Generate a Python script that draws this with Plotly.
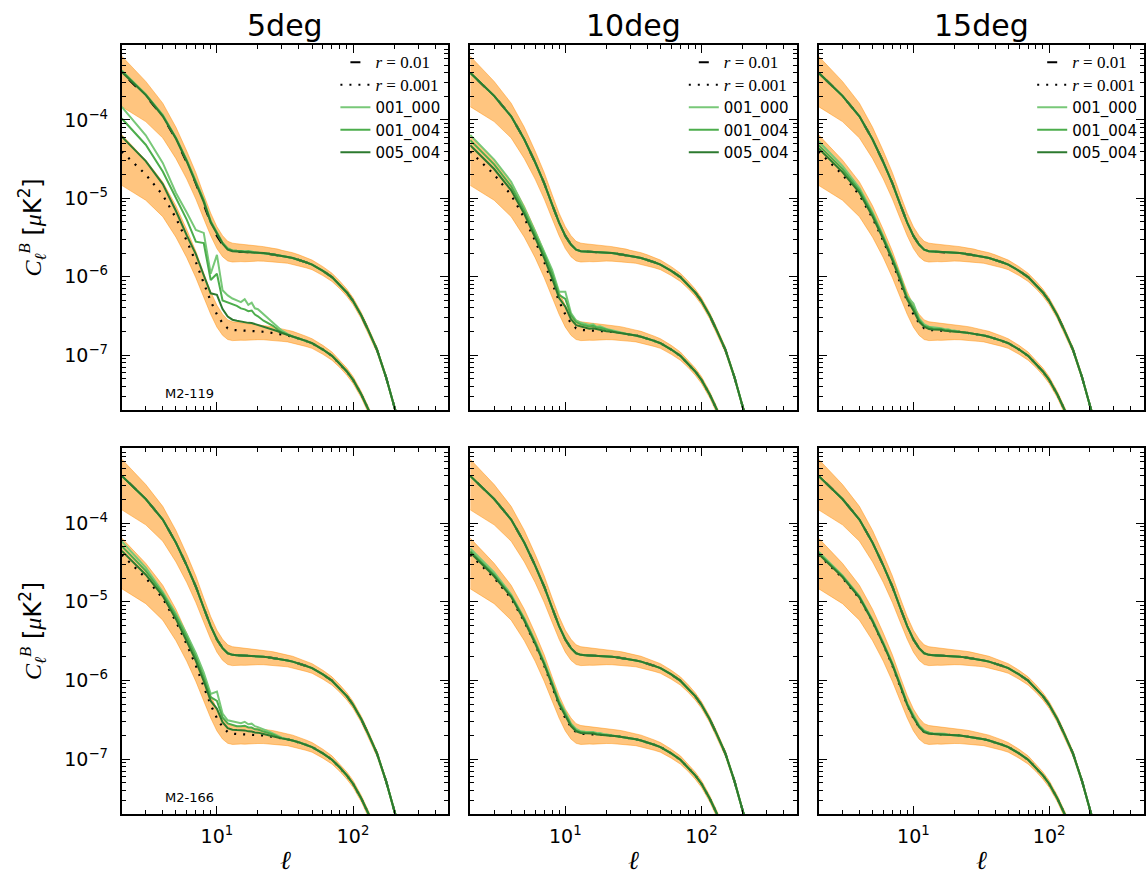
import plotly.graph_objects as go

# ---------------- data ----------------
ell = [2, 3, 4, 5, 6, 7, 8, 9, 10, 11, 12, 13, 14, 15, 16, 17, 18, 19, 20,
       22, 24, 26, 28, 30, 33, 36, 40, 45, 50, 60, 70, 80, 90, 100, 115, 130,
       150, 175, 200, 230]

# fiducial B-mode spectra [muK^2]
cl_r01 = [3.98e-4, 2.02e-4, 1.109e-4, 5.62e-5, 2.88e-5, 1.55e-5, 8.32e-6, 4.90e-6,
          3.31e-6, 2.57e-6, 2.21e-6, 2.11e-6, 2.09e-6, 2.08e-6, 2.07e-6, 2.06e-6,
          2.05e-6, 2.04e-6, 2.03e-6, 2.00e-6, 1.96e-6, 1.92e-6, 1.89e-6, 1.84e-6,
          1.79e-6, 1.73e-6, 1.64e-6, 1.53e-6, 1.43e-6, 1.19e-6, 9.9e-7, 7.9e-7,
          6.3e-7, 4.9e-7, 3.2e-7, 2.04e-7, 1.17e-7, 5.2e-8, 2.3e-8, 9.5e-9]
cl_r001 = [3.95e-5, 2.01e-5, 1.10e-5, 5.6e-6, 2.87e-6, 1.54e-6, 8.3e-7, 4.88e-7,
           3.3e-7, 2.56e-7, 2.2e-7, 2.1e-7, 2.08e-7, 2.07e-7, 2.06e-7, 2.05e-7,
           2.04e-7, 2.03e-7, 2.02e-7, 1.99e-7, 1.95e-7, 1.91e-7, 1.88e-7, 1.83e-7,
           1.78e-7, 1.72e-7, 1.63e-7, 1.52e-7, 1.42e-7, 1.18e-7, 9.8e-8, 7.8e-8,
           6.2e-8, 4.85e-8, 3.15e-8, 2.0e-8, 1.15e-8, 5.1e-9, 2.2e-9, 9e-10]
# relative half-width of the orange (cosmic variance) band
band_frac = [0.63, 0.53, 0.47, 0.43, 0.39, 0.37, 0.34, 0.32, 0.31, 0.30,
             0.28, 0.27, 0.26, 0.25, 0.25, 0.24, 0.23, 0.23, 0.22, 0.21,
             0.20, 0.20, 0.19, 0.18, 0.17, 0.17, 0.16, 0.15, 0.14, 0.13,
             0.12, 0.11, 0.105, 0.10, 0.093, 0.088, 0.082, 0.076, 0.071, 0.066]

# residual excess of the recovered spectra above the fiducial, in dex,
# for ell = 2..20, 22, 24, 26, 28, 30, 33, 36, 40 (beyond: equal to fiducial)
# panel 1: 5deg, M2-119
p1_hi_001_000 = [0.03, 0.02, 0.02, 0.02, 0.03, 0.03, 0.06, 0.02, 0.05, 0.02, 0.02, 0.01, 0.01, 0.01, 0.01, 0.01, 0.01, 0.0, 0.0, 0.0, 0.0, 0.0, 0.0, 0.0, 0.0, 0.0, 0.0]
p1_hi_001_004 = [0.02, 0.02, 0.01, 0.02, 0.02, 0.02, 0.05, 0.01, 0.04, 0.02, 0.01, 0.01, 0.01, 0.01, 0.0, 0.01, 0.0, 0.0, 0.0, 0.0, 0.0, 0.0, 0.0, 0.0, 0.0, 0.0, 0.0]
p1_hi_005_004 = [0.01, 0.01, 0.0, 0.01, 0.01, 0.01, 0.03, 0.0, 0.02, 0.01, 0.0, 0.0, 0.0, 0.0, 0.0, 0.0, 0.0, 0.0, 0.0, 0.0, 0.0, 0.0, 0.0, 0.0, 0.0, 0.0, 0.0]
p1_lo_001_000 = [0.57, 0.50, 0.41, 0.32, 0.36, 0.41, 0.64, 0.35, 0.76, 0.42, 0.42, 0.40, 0.38, 0.36, 0.40, 0.33, 0.36, 0.29, 0.28, 0.22, 0.18, 0.13, 0.08, 0.05, 0.02, 0.0, 0.0]
p1_lo_001_004 = [0.42, 0.38, 0.30, 0.25, 0.27, 0.26, 0.51, 0.27, 0.52, 0.29, 0.33, 0.32, 0.31, 0.28, 0.27, 0.25, 0.26, 0.21, 0.19, 0.14, 0.11, 0.09, 0.05, 0.03, 0.01, 0.0, 0.0]
p1_lo_005_004 = [0.19, 0.17, 0.14, 0.09, 0.07, 0.10, 0.10, 0.10, 0.25, 0.18, 0.15, 0.13, 0.12, 0.11, 0.11, 0.10, 0.10, 0.09, 0.08, 0.06, 0.05, 0.04, 0.03, 0.02, 0.01, 0.0, 0.0]
# panel 2: 10deg, M2-119
p2_lo_001_000 = [0.21, 0.19, 0.17, 0.13, 0.12, 0.14, 0.17, 0.12, 0.29, 0.13, 0.10, 0.09, 0.08, 0.07, 0.08, 0.05, 0.06, 0.04, 0.03, 0.02, 0.01, 0.0, 0.0, 0.0, 0.0, 0.0, 0.0]
p2_lo_001_004 = [0.145, 0.13, 0.11, 0.09, 0.08, 0.10, 0.12, 0.08, 0.20, 0.10, 0.08, 0.07, 0.06, 0.05, 0.06, 0.04, 0.04, 0.03, 0.02, 0.01, 0.0, 0.0, 0.0, 0.0, 0.0, 0.0, 0.0]
p2_lo_005_004 = [0.08, 0.07, 0.06, 0.05, 0.04, 0.05, 0.06, 0.04, 0.10, 0.05, 0.04, 0.04, 0.03, 0.02, 0.03, 0.02, 0.01, 0.01, 0.0, 0.0, 0.0, 0.0, 0.0, 0.0, 0.0, 0.0, 0.0]
# panel 3: 15deg, M2-119
p3_lo_001_000 = [0.13, 0.11, 0.09, 0.07, 0.06, 0.07, 0.09, 0.06, 0.14, 0.06, 0.05, 0.04, 0.04, 0.03, 0.03, 0.02, 0.02, 0.01, 0.01, 0.0, 0.0, 0.0, 0.0, 0.0, 0.0, 0.0, 0.0]
p3_lo_001_004 = [0.08, 0.07, 0.06, 0.05, 0.04, 0.05, 0.06, 0.04, 0.09, 0.04, 0.03, 0.03, 0.02, 0.02, 0.02, 0.01, 0.01, 0.0, 0.0, 0.0, 0.0, 0.0, 0.0, 0.0, 0.0, 0.0, 0.0]
p3_lo_005_004 = [0.04, 0.03, 0.03, 0.02, 0.02, 0.02, 0.03, 0.02, 0.05, 0.02, 0.02, 0.01, 0.01, 0.01, 0.01, 0.0, 0.0, 0.0, 0.0, 0.0, 0.0, 0.0, 0.0, 0.0, 0.0, 0.0, 0.0]
# panel 4: 5deg, M2-166
p4_lo_001_000 = [0.17, 0.13, 0.08, 0.10, 0.13, 0.16, 0.18, 0.14, 0.34, 0.17, 0.15, 0.16, 0.15, 0.14, 0.16, 0.13, 0.14, 0.11, 0.10, 0.08, 0.06, 0.04, 0.02, 0.01, 0.0, 0.0, 0.0]
p4_lo_001_004 = [0.11, 0.09, 0.06, 0.07, 0.09, 0.11, 0.12, 0.10, 0.22, 0.12, 0.11, 0.11, 0.10, 0.10, 0.11, 0.09, 0.09, 0.07, 0.07, 0.05, 0.04, 0.03, 0.01, 0.0, 0.0, 0.0, 0.0]
p4_lo_005_004 = [0.05, 0.04, 0.03, 0.03, 0.04, 0.06, 0.07, 0.05, 0.12, 0.06, 0.05, 0.05, 0.05, 0.05, 0.05, 0.04, 0.04, 0.03, 0.03, 0.02, 0.01, 0.0, 0.0, 0.0, 0.0, 0.0, 0.0]
# panel 5: 10deg, M2-166
p5_lo_001_000 = [0.08, 0.07, 0.05, 0.04, 0.04, 0.05, 0.06, 0.05, 0.08, 0.04, 0.04, 0.03, 0.03, 0.03, 0.03, 0.02, 0.02, 0.01, 0.01, 0.0, 0.0, 0.0, 0.0, 0.0, 0.0, 0.0, 0.0]
p5_lo_001_004 = [0.05, 0.04, 0.03, 0.03, 0.03, 0.03, 0.04, 0.03, 0.05, 0.03, 0.02, 0.02, 0.02, 0.02, 0.02, 0.01, 0.01, 0.0, 0.0, 0.0, 0.0, 0.0, 0.0, 0.0, 0.0, 0.0, 0.0]
p5_lo_005_004 = [0.03, 0.02, 0.02, 0.01, 0.01, 0.02, 0.02, 0.01, 0.03, 0.01, 0.01, 0.01, 0.01, 0.01, 0.01, 0.0, 0.0, 0.0, 0.0, 0.0, 0.0, 0.0, 0.0, 0.0, 0.0, 0.0, 0.0]
# panel 6: 15deg, M2-166
p6_lo_001_000 = [0.04, 0.03, 0.03, 0.02, 0.02, 0.03, 0.03, 0.02, 0.04, 0.02, 0.02, 0.01, 0.01, 0.01, 0.01, 0.01, 0.0, 0.0, 0.0, 0.0, 0.0, 0.0, 0.0, 0.0, 0.0, 0.0, 0.0]
p6_lo_001_004 = [0.02, 0.02, 0.02, 0.01, 0.01, 0.02, 0.02, 0.01, 0.02, 0.01, 0.01, 0.01, 0.0, 0.0, 0.0, 0.0, 0.0, 0.0, 0.0, 0.0, 0.0, 0.0, 0.0, 0.0, 0.0, 0.0, 0.0]
p6_lo_005_004 = [0.01, 0.01, 0.01, 0.0, 0.0, 0.01, 0.01, 0.0, 0.01, 0.0, 0.0, 0.0, 0.0, 0.0, 0.0, 0.0, 0.0, 0.0, 0.0, 0.0, 0.0, 0.0, 0.0, 0.0, 0.0, 0.0, 0.0]

sim_names = ["001_000", "001_004", "005_004"]
col_titles = ["5deg", "10deg", "15deg"]
row_labels = ["M2-119", "M2-166"]
x_tickvals = [10, 100]
x_ticktext = ["10<sup>1</sup>", "10<sup>2</sup>"]
y_tickvals = [1e-7, 1e-6, 1e-5, 1e-4]
y_ticktext = ["10<sup>−7</sup>", "10<sup>−6</sup>", "10<sup>−5</sup>", "10<sup>−4</sup>"]

panel_hi = [
    [p1_hi_001_000, p1_hi_001_004, p1_hi_005_004],
    [None, None, None], [None, None, None],
    [None, None, None], [None, None, None], [None, None, None],
]
panel_lo = [
    [p1_lo_001_000, p1_lo_001_004, p1_lo_005_004],
    [p2_lo_001_000, p2_lo_001_004, p2_lo_005_004],
    [p3_lo_001_000, p3_lo_001_004, p3_lo_005_004],
    [p4_lo_001_000, p4_lo_001_004, p4_lo_005_004],
    [p5_lo_001_000, p5_lo_001_004, p5_lo_005_004],
    [p6_lo_001_000, p6_lo_001_004, p6_lo_005_004],
]

# ---------------- styling / layout ----------------
W, H = 1146, 883
col_px = [(122, 449), (471, 798), (820, 1146)]
row_px = [(45, 410), (448, 814)]
green = ["#78c878", "#4cad4c", "#2c7a2f"]
band_fill = "rgba(255,140,0,0.5)"
band_edge = "rgba(255,140,0,0.45)"
SERIF = "Liberation Serif"
SANS = "DejaVu Sans"


def with_excess(fid, exc):
    if exc is None:
        return list(fid)
    out = [f * 10 ** e for f, e in zip(fid, exc)]
    return out + list(fid[len(out):])


def serif(s, size=17):
    return '<span style="font-family:%s;font-size:%dpx">%s</span>' % (SERIF, size, s)


fig = go.Figure()
legend_ids = ["legend", "legend2", "legend3"]

for p in range(6):
    r, c = divmod(p, 3)
    sfx = "" if p == 0 else str(p + 1)
    xa, ya = "x" + sfx, "y" + sfx
    in_leg = r == 0
    leg = legend_ids[c]

    # orange bands
    for fid in (cl_r01, cl_r001):
        hi = [f * (1 + b) for f, b in zip(fid, band_frac)]
        lo = [f * (1 - b) for f, b in zip(fid, band_frac)]
        fig.add_trace(go.Scatter(
            x=ell + ell[::-1], y=hi + lo[::-1], mode="lines", fill="toself",
            fillcolor=band_fill, line=dict(color=band_edge, width=1),
            showlegend=False, hoverinfo="skip", xaxis=xa, yaxis=ya))

    # fiducial lines
    fig.add_trace(go.Scatter(
        x=ell, y=cl_r01, mode="lines", name=serif("<i>r</i> = 0.01"),
        line=dict(color="black", width=2.2, dash="0px,10px,10px,10px"),
        showlegend=in_leg, legend=leg, xaxis=xa, yaxis=ya))
    fig.add_trace(go.Scatter(
        x=ell, y=cl_r001, mode="lines", name=serif("<i>r</i> = 0.001"),
        line=dict(color="black", width=2.2, dash="2px,7px"),
        showlegend=in_leg, legend=leg, xaxis=xa, yaxis=ya))

    # recovered spectra (upper: r=0.01, lower: r=0.001)
    for k in range(3):
        fig.add_trace(go.Scatter(
            x=ell, y=with_excess(cl_r01, panel_hi[p][k]), mode="lines",
            name=sim_names[k], line=dict(color=green[k], width=2),
            showlegend=in_leg, legend=leg, xaxis=xa, yaxis=ya))
    for k in range(3):
        fig.add_trace(go.Scatter(
            x=ell, y=with_excess(cl_r001, panel_lo[p][k]), mode="lines",
            name=sim_names[k], line=dict(color=green[k], width=2),
            showlegend=False, xaxis=xa, yaxis=ya))

x_minor = [m * 10 ** k for k in range(0, 3) for m in range(2, 10)]
y_minor = [m * 10.0 ** k for k in range(-9, -2) for m in range(2, 10)]

axis_common = dict(
    type="log", showline=True, linecolor="black", linewidth=2, mirror="ticks",
    ticks="inside", ticklen=8, tickwidth=1.2, tickcolor="black",
    showgrid=False, zeroline=False, tickmode="array",
    tickfont=dict(family=SANS, size=19, color="black"),
)

layout = dict(
    width=W, height=H, margin=dict(l=0, r=0, t=0, b=0),
    paper_bgcolor="white", plot_bgcolor="white", showlegend=True,
)

for p in range(6):
    r, c = divmod(p, 3)
    sfx = "" if p == 0 else str(p + 1)
    x0, x1 = col_px[c]
    t, b = row_px[r]
    layout["xaxis" + sfx] = dict(
        axis_common, domain=[x0 / W, min(x1 / W, 1.0)], anchor="y" + sfx,
        range=[0.30103, 2.69897], showticklabels=(r == 1), ticklabelstandoff=4,
        tickvals=x_tickvals, ticktext=x_ticktext,
        minor=dict(tickmode="array", tickvals=x_minor, ticks="inside", ticklen=4,
                   tickwidth=1, tickcolor="black", showgrid=False))
    layout["yaxis" + sfx] = dict(
        axis_common, domain=[1 - b / H, 1 - t / H], anchor="x" + sfx,
        range=[-7.69897, -3.04576], showticklabels=(c == 0), ticklabelstandoff=8,
        tickvals=y_tickvals, ticktext=y_ticktext,
        minor=dict(tickmode="array", tickvals=y_minor, ticks="inside", ticklen=4,
                   tickwidth=1, tickcolor="black", showgrid=False))

legend_x_px = [336, 685, 1034]
for c in range(3):
    layout[legend_ids[c]] = dict(
        x=legend_x_px[c] / W, y=1 - 46 / H, xanchor="left", yanchor="top",
        bgcolor="rgba(0,0,0,0)", borderwidth=0,
        font=dict(family=SANS, size=15, color="black"),
        tracegroupgap=0, itemwidth=30)

fig.update_layout(**layout)

annotations = []
for c in range(3):
    x0, x1 = col_px[c]
    cx = (x0 + min(x1, 1147)) / 2 / W
    annotations.append(dict(
        text=col_titles[c], x=cx, y=1 - 26 / H, xref="paper", yref="paper",
        xanchor="center", yanchor="middle", showarrow=False,
        font=dict(family=SANS, size=30, color="black")))
    annotations.append(dict(
        text="<i>ℓ</i>", x=cx, y=1 - 860 / H, xref="paper", yref="paper",
        xanchor="center", yanchor="middle", showarrow=False,
        font=dict(family=SERIF, size=26, color="black")))

ylab = ('<span style="font-family:%s"><i>C</i><sub><i>ℓ</i></sub><sup><i>B</i></sup></span>'
        ' [<span style="font-family:%s"><i>μ</i></span>K<sup>2</sup>]') % (SERIF, SERIF)
for r in range(2):
    t, b = row_px[r]
    annotations.append(dict(
        text=ylab, x=32 / W, y=1 - (t + b) / 2 / H, xref="paper", yref="paper",
        xanchor="center", yanchor="middle", showarrow=False, textangle=-90,
        font=dict(family=SANS, size=24, color="black")))
    annotations.append(dict(
        text=row_labels[r], x=190 / W, y=1 - (b - 17) / H, xref="paper", yref="paper",
        xanchor="center", yanchor="middle", showarrow=False,
        font=dict(family=SANS, size=13, color="black")))

fig.update_layout(annotations=annotations)
fig.write_html("out.html")
